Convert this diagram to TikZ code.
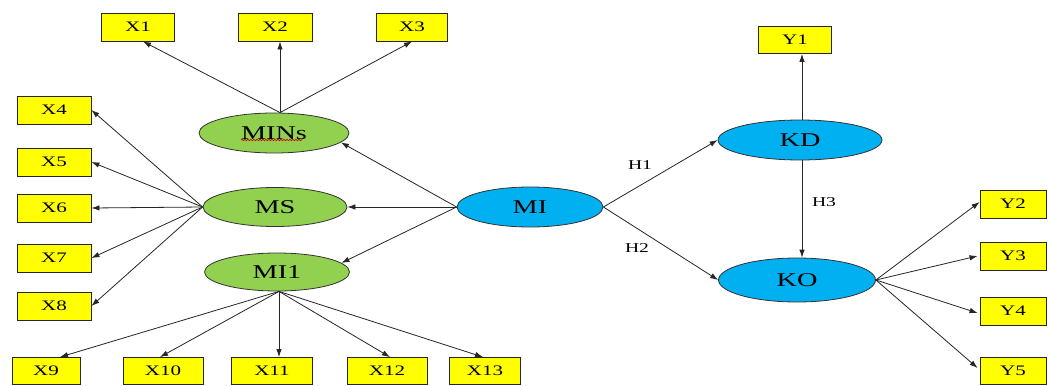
\documentclass[tikz,border=0pt]{standalone}
\usepackage{fontspec}
\setmainfont{Liberation Serif}[FakeStretch=1.45]
\usetikzlibrary{arrows.meta,decorations.pathmorphing,shapes.geometric}
\definecolor{ygreen}{RGB}{146,208,80}
\definecolor{cblue}{RGB}{0,176,240}
\definecolor{ybox}{RGB}{255,255,0}
\begin{document}
\begin{tikzpicture}[x=1pt,y=-1pt,
  ind/.style={draw=black!85,line width=0.9pt,fill=ybox,inner sep=0pt,minimum height=28pt,
    font=\fontsize{14.5}{16}\selectfont},
  lat/.style={ellipse,draw=black!80,line width=0.8pt,inner sep=0pt,
    font=\fontsize{19.5}{21}\selectfont},
  gnode/.style={lat,fill=ygreen},
  bnode/.style={lat,fill=cblue},
  arr/.style={draw=black!85,line width=0.8pt,-{Latex[length=8pt,width=5.5pt]}},
  hlab/.style={font=\fontsize{13.5}{15}\selectfont,inner sep=0pt}]
\useasboundingbox (0,0) rectangle (1048,385);
\fill[white] (0,0) rectangle (1048,385);
% indicator boxes
\node[ind,minimum width=73pt] (X1) at (138,27) {X1};
\node[ind,minimum width=74pt] (X2) at (275,27) {X2};
\node[ind,minimum width=71pt] (X3) at (412,27) {X3};
\node[ind,minimum width=74pt] (X4) at (54,110) {X4};
\node[ind,minimum width=74pt] (X5) at (54,162) {X5};
\node[ind,minimum width=74pt] (X6) at (54,208) {X6};
\node[ind,minimum width=74pt] (X7) at (54,258) {X7};
\node[ind,minimum width=74pt] (X8) at (54,306) {X8};
\node[ind,minimum width=68pt,minimum height=27pt] (X9) at (46,371) {X9};
\node[ind,minimum width=80pt,minimum height=27pt] (X10) at (163,371) {X10};
\node[ind,minimum width=81pt,minimum height=27pt] (X11) at (272,371) {X11};
\node[ind,minimum width=80pt,minimum height=27pt] (X12) at (387,371) {X12};
\node[ind,minimum width=71pt,minimum height=27pt] (X13) at (485,371) {X13};
\node[ind,minimum width=73pt,minimum height=27pt] (Y1) at (795,40) {Y1};
\node[ind,minimum width=66pt] (Y2) at (1013,204) {Y2};
\node[ind,minimum width=66pt] (Y3) at (1013,256) {Y3};
\node[ind,minimum width=66pt] (Y4) at (1013,311) {Y4};
\node[ind,minimum width=66pt,minimum height=27pt] (Y5) at (1013,371) {Y5};
% latent variables
\node[gnode,minimum width=150pt,minimum height=40pt] (MINs) at (274,133) {MINs};
\node[gnode,minimum width=144pt,minimum height=39pt] (MS) at (275,207) {MS};
\node[gnode,minimum width=145pt,minimum height=38pt] (MI1) at (277,272) {MI1};
\node[bnode,minimum width=146pt,minimum height=40pt] (MI) at (530,207) {MI};
\node[bnode,minimum width=164pt,minimum height=40pt] (KD) at (800,140) {KD};
\node[bnode,minimum width=157pt,minimum height=44pt] (KO) at (797,280) {KO};
% spell-check underline
\coordinate (u1) at ([xshift=-33pt,yshift=-7pt]MINs.center);
\coordinate (u2) at ([xshift=28pt,yshift=-7pt]MINs.center);
\draw[red!80!black,line width=0.6pt,decorate,decoration={snake,amplitude=0.8pt,segment length=3pt}] (u1) -- (u2);
% MINs indicators
\coordinate (mt) at ([xshift=6pt]MINs.north);
\draw[arr] (mt) -- ([xshift=5pt]X1.south);
\draw[arr] (mt) -- (mt |- X2.south);
\draw[arr] (mt) -- (X3.south);
% MS indicators
\draw[arr] (MS.west) -- (X4.east);
\draw[arr] (MS.west) -- (X5.east);
\draw[arr] (MS.west) -- (X6.east);
\draw[arr] (MS.west) -- (X7.east);
\draw[arr] (MS.west) -- (X8.east);
% MI1 indicators
\coordinate (ms) at ([xshift=2pt]MI1.south);
\draw[arr] (ms) -- ([xshift=14pt]X9.north);
\draw[arr] (ms) -- ([xshift=-3pt]X10.north);
\draw[arr] (ms) -- (ms |- X11.north);
\draw[arr] (ms) -- ([xshift=3pt]X12.north);
\draw[arr] (ms) -- ([xshift=-2pt]X13.north);
% MI to first order
\draw[arr] (MI.west) -- (MINs.-8);
\draw[arr] (MI.west) -- (MS.east);
\draw[arr] (MI.west) -- (MI1.8);
% structural paths
\draw[arr] (MI.east) -- (KD.west);
\draw[arr] (MI.east) -- (KO.west);
\coordinate (kt) at ([xshift=2pt]KD.north);
\draw[arr] (kt) -- (kt |- Y1.south);
\coordinate (kb) at ([xshift=2pt]KD.south);
\draw[arr] (kb) -- (kb |- KO.north);
% KO indicators
\draw[arr] (KO.east) -- ([yshift=2pt]Y2.west);
\draw[arr] (KO.east) -- ([xshift=-2pt]Y3.west);
\draw[arr] (KO.east) -- ([xshift=-2pt,yshift=-2pt]Y4.west);
\draw[arr] (KO.east) -- ([xshift=-2pt,yshift=3pt]Y5.west);
% labels
\node[hlab] (H1) at (640,165) {H1};
\node[hlab] (H2) at (637,248) {H2};
\node[hlab] (H3) at (824,202) {H3};
\end{tikzpicture}
\end{document}
